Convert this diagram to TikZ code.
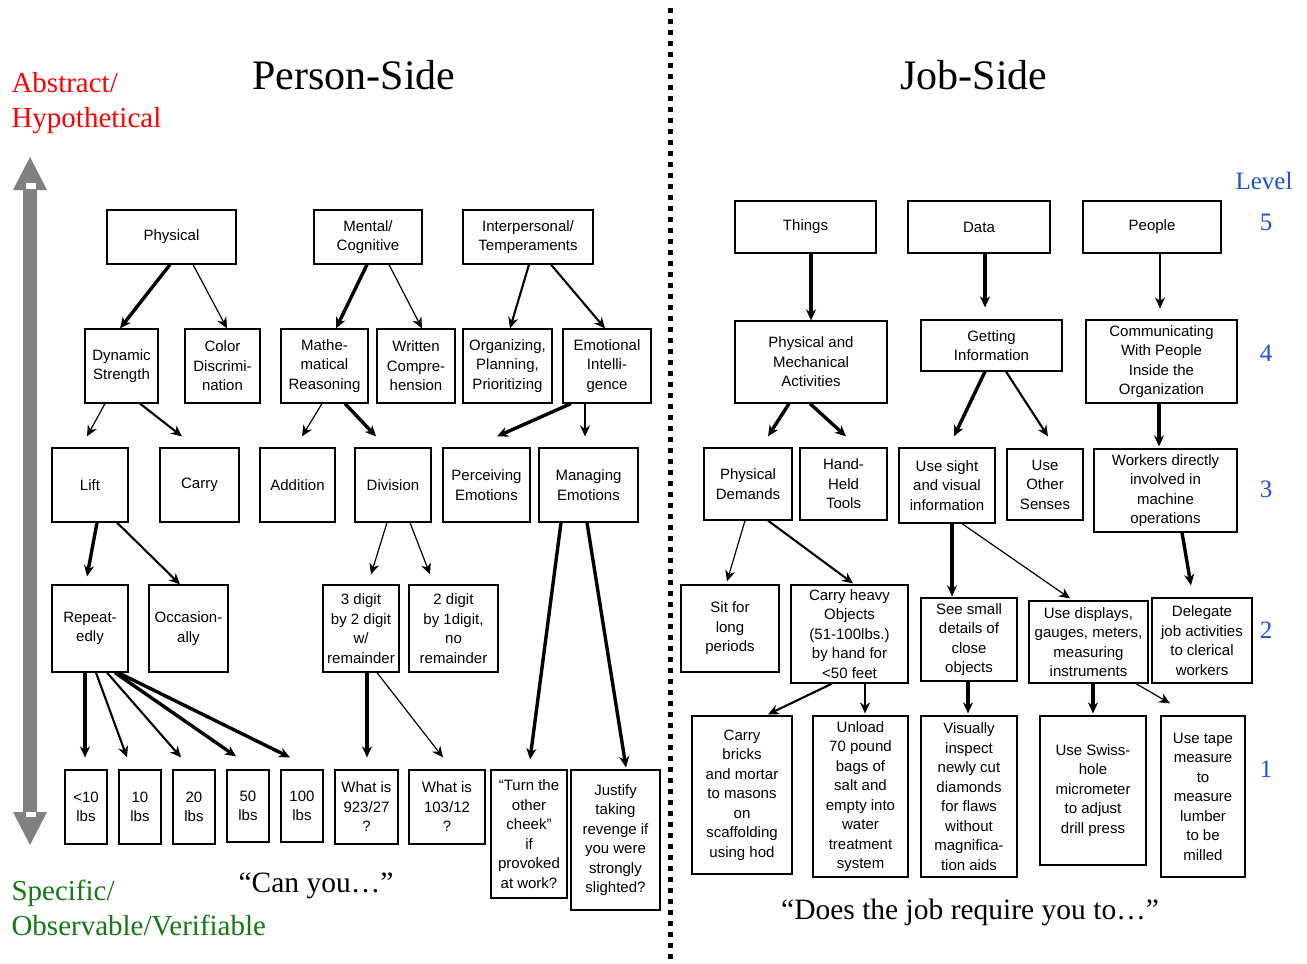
\documentclass[tikz,border=0pt]{standalone}
\usepackage{fontspec}
\setmainfont{Liberation Serif}
\setsansfont{Liberation Sans}
\usetikzlibrary{arrows.meta}
\newcommand\boxfont{\sffamily\fontsize{15}{19.5}\selectfont}
\definecolor{absred}{RGB}{255,0,0}
\definecolor{obsgreen}{RGB}{20,120,20}
\definecolor{lvlblue}{RGB}{30,80,215}
\definecolor{bargray}{RGB}{128,128,128}
\begin{document}
\begin{tikzpicture}[x=1pt,y=-1pt,
  box/.style={draw, line width=1.2pt, inner sep=1pt, align=center, font=\boxfont},
  arr/.style={-{Stealth[length=11pt,width=10pt,inset=3.5pt]}},
  thk/.style={arr, line width=3.4pt},
  med/.style={arr, line width=2.1pt},
  thn/.style={arr, line width=1.2pt},
  ttl/.style={font=\fontsize{42}{50}\selectfont},
  side/.style={font=\fontsize{29}{35}\selectfont, align=left, anchor=west},
  lvl/.style={font=\fontsize{25}{30}\selectfont, text=lvlblue},
  quote/.style={font=\fontsize{29.5}{35}\selectfont}]
\useasboundingbox (0,0) rectangle (1307,964);

% gray double arrow
\fill[bargray] (23,190) rectangle (37,812);
\fill[bargray] (13,190) -- (47,190) -- (30,157) -- cycle;
\fill[bargray] (13,812) -- (47,812) -- (30,845) -- cycle;
\fill[white] (26,183) rectangle (36,189);
\fill[white] (26,812) rectangle (36,817);

% dotted separator
\draw[line width=5pt, dash pattern=on 5pt off 6pt] (670,8) -- (670,964);

% titles and side labels
\node[ttl] (pside) at (354,75) {Person-Side};
\node[ttl] (jside) at (974,75) {Job-Side};
\node[side, text=absred] (abs) at (8,103) {Abstract/\\Hypothetical};
\node[side, text=obsgreen] (obs) at (8,908) {Specific/\\Observable/Verifiable};
\node[quote] (canyou) at (316,886) {“Can you…”};
\node[quote] (doesjob) at (970,912) {“Does the job require you to…”};
\node[lvl] (level) at (1264,181) {Level};
\node[lvl] (l5) at (1266,222) {5};
\node[lvl] (l4) at (1266,353) {4};
\node[lvl] (l3) at (1266,489) {3};
\node[lvl] (l2) at (1266,630) {2};
\node[lvl] (l1) at (1266,769) {1};

% ---------- Person side ----------
\node[box, minimum width=129, minimum height=54] (phys) at (171.5,237) {Physical};
\node[box, minimum width=108, minimum height=54] (mental) at (368,237) {Mental/\\Cognitive};
\node[box, minimum width=130, minimum height=54] (interp) at (528,237) {Interpersonal/\\Temperaments};

\node[box, minimum width=73, minimum height=74] (dyn) at (121.5,366) {Dynamic\\Strength};
\node[box, minimum width=75, minimum height=74] (color) at (222.5,366) {Color\\Discrimi-\\nation};
\node[box, minimum width=87, minimum height=74] (mathe) at (324.5,366) {Mathe-\\matical\\Reasoning};
\node[box, minimum width=78, minimum height=74] (written) at (416,366) {Written\\Compre-\\hension};
\node[box, minimum width=89, minimum height=74] (organ) at (507.5,366) {Organizing,\\Planning,\\Prioritizing};
\node[box, minimum width=88, minimum height=74] (emot) at (607,366) {Emotional\\Intelli-\\gence};

\node[box, minimum width=76, minimum height=74] (lift) at (90,485) {Lift};
\node[box, minimum width=79, minimum height=74] (carry) at (199.5,485) {Carry};
\node[box, minimum width=75, minimum height=74] (addition) at (297.5,485) {Addition};
\node[box, minimum width=76, minimum height=74] (division) at (393,485) {Division};
\node[box, minimum width=87, minimum height=74] (perc) at (486.5,485) {Perceiving\\Emotions};
\node[box, minimum width=99, minimum height=74] (manag) at (588.5,485) {Managing\\Emotions};

\node[box, minimum width=76, minimum height=87] (repeat) at (90,628.5) {Repeat-\\edly};
\node[box, minimum width=79, minimum height=87] (occas) at (188.5,628.5) {Occasion-\\ally};
\node[box, minimum width=76, minimum height=87] (three) at (361,628.5) {3 digit\\by 2 digit\\w/\\remainder};
\node[box, minimum width=89, minimum height=87] (two) at (453.5,628.5) {2 digit\\by 1digit,\\no\\remainder};

\node[box, minimum width=42, minimum height=74] (lbA) at (86,807) {<10\\lbs};
\node[box, minimum width=42, minimum height=74] (lbB) at (140,807) {10\\lbs};
\node[box, minimum width=42, minimum height=74] (lbC) at (194,807) {20\\lbs};
\node[box, minimum width=42, minimum height=72] (lbD) at (248,806) {50\\lbs};
\node[box, minimum width=42, minimum height=72] (lbE) at (302,806) {100\\lbs};
\node[box, minimum width=63, minimum height=74] (whatA) at (366.5,807) {What is\\923/27\\?};
\node[box, minimum width=76, minimum height=74] (whatB) at (447,807) {What is\\103/12\\?};
\node[box, minimum width=76, minimum height=128] (turn) at (529,834) {“Turn the\\other\\cheek”\\if\\provoked\\at work?};
\node[box, minimum width=89, minimum height=140] (justify) at (615.5,840) {Justify\\taking\\revenge if\\you were\\strongly\\slighted?};

% ---------- Job side ----------
\node[box, minimum width=141, minimum height=52] (things) at (805.5,227) {Things};
\node[box, minimum width=142, minimum height=52] (data) at (979,227) {Data};
\node[box, minimum width=138, minimum height=52] (people) at (1152,227) {People};

\node[box, minimum width=152, minimum height=82] (physmech) at (811,362) {Physical and\\Mechanical\\Activities};
\node[box, minimum width=141, minimum height=51] (getting) at (991.5,345.5) {Getting\\Information};
\node[box, minimum width=151, minimum height=83] (commun) at (1161.5,361.5) {Communicating\\With People\\Inside the\\Organization};

\node[box, minimum width=88, minimum height=72] (physdem) at (748,484) {Physical\\Demands};
\node[box, minimum width=87, minimum height=72] (hand) at (843.5,484) {Hand-\\Held\\Tools};
\node[box, minimum width=96, minimum height=75] (sight) at (947,485.5) {Use sight\\and visual\\information};
\node[box, minimum width=76, minimum height=71] (other) at (1045,484.5) {Use\\Other\\Senses};
\node[box, minimum width=143, minimum height=83] (workers) at (1165.5,490.5) {Workers directly\\involved in\\machine\\operations};

\node[box, minimum width=98, minimum height=87] (sit) at (730,628.5) {Sit for\\long\\periods};
\node[box, minimum width=117, minimum height=98] (heavy) at (849.5,634) {Carry heavy\\Objects\\(51-100lbs.)\\by hand for\\<50 feet};
\node[box, minimum width=96, minimum height=83] (seesmall) at (969,639.5) {See small\\details of\\close\\objects};
\node[box, minimum width=119, minimum height=82] (displays) at (1088.5,642) {Use displays,\\gauges, meters,\\measuring\\instruments};
\node[box, minimum width=100, minimum height=85] (delegate) at (1202,640.5) {Delegate\\job activities\\to clerical\\workers};

\node[box, minimum width=100, minimum height=158] (bricks) at (742,795) {Carry\\bricks\\and mortar\\to masons\\on\\scaffolding\\using hod};
\node[box, minimum width=95, minimum height=161] (unload) at (860.5,796.5) {Unload\\70 pound\\bags of\\salt and\\empty into\\water\\treatment\\system};
\node[box, minimum width=96, minimum height=161] (visual) at (969,796.5) {Visually\\inspect\\newly cut\\diamonds\\for flaws\\without\\magnifica-\\tion aids};
\node[box, minimum width=106, minimum height=149] (swiss) at (1093,790.5) {Use Swiss-\\hole\\micrometer\\to adjust\\drill press};
\node[box, minimum width=84, minimum height=161] (tape) at (1203,796.5) {Use tape\\measure\\to\\measure\\lumber\\to be\\milled};

% ---------- Person side arrows ----------
\draw[thk] ([xshift=-1.5pt]phys.south) -- ([xshift=-1.5pt]dyn.north);
\draw[thn] ([xshift=21.5pt]phys.south) -- ([xshift=4.5pt]color.north);
\draw[thk] ([xshift=-1pt]mental.south) -- ([xshift=11.5pt]mathe.north);
\draw[thn] ([xshift=21pt]mental.south) -- ([xshift=6pt]written.north);
\draw[med] ([xshift=1pt]interp.south) -- ([xshift=2.5pt]organ.north);
\draw[med] ([xshift=23pt]interp.south) -- ([xshift=-2pt]emot.north);

\draw[thn] ([xshift=-16.5pt]dyn.south) -- ([xshift=-3pt,yshift=11pt]lift.north);
\draw[med] ([xshift=18.5pt]dyn.south) -- ([xshift=-17.5pt,yshift=11pt]carry.north);
\draw[thn] ([xshift=-2.5pt]mathe.south) -- ([xshift=4.5pt,yshift=11pt]addition.north);
\draw[thk] ([xshift=20.5pt]mathe.south) -- ([xshift=-17pt,yshift=11pt]division.north);
\draw[thk] ([xshift=-36pt]emot.south) -- ([xshift=10.5pt,yshift=11pt]perc.north);
\draw[med] ([xshift=-22pt]emot.south) -- ([xshift=-3.5pt,yshift=11pt]manag.north);

\draw[thk] ([xshift=7pt]lift.south) -- ([xshift=-3pt,yshift=8pt]repeat.north);
\draw[med] ([xshift=27pt]lift.south) -- ([xshift=-8.5pt]occas.north);
\draw[thn] ([xshift=-6pt]division.south) -- ([xshift=10pt,yshift=10pt]three.north);
\draw[thn] ([xshift=17pt]division.south) -- ([xshift=-23.5pt,yshift=10pt]two.north);

\draw[thk] ([xshift=-5pt]repeat.south) -- ([xshift=-1pt,yshift=12pt]lbA.north);
\draw[med] ([xshift=6pt]repeat.south) -- ([xshift=-13pt,yshift=12pt]lbB.north);
\draw[med] ([xshift=17pt]repeat.south) -- ([xshift=-13pt,yshift=12pt]lbC.north);
\draw[thk] ([xshift=25pt]repeat.south) -- ([xshift=-12pt,yshift=13pt]lbD.north);
\draw[thk] ([xshift=28pt]repeat.south) -- ([xshift=-12pt,yshift=12pt]lbE.north);
\draw[thk] ([xshift=6pt]three.south) -- ([xshift=0.5pt,yshift=12pt]whatA.north);
\draw[thn] ([xshift=16pt]three.south) -- ([xshift=-4pt,yshift=12pt]whatB.north);
\draw[thk] ([xshift=-27.5pt]manag.south) -- ([xshift=1pt,yshift=10pt]turn.north);
\draw[thk] ([xshift=-1.5pt]manag.south) -- ([xshift=10.5pt,yshift=2pt]justify.north);

% ---------- Job side arrows ----------
\draw[thk] ([xshift=5.5pt]things.south) -- (physmech.north);
\draw[thk] ([xshift=6pt]data.south) -- ([xshift=-6.5pt,yshift=12pt]getting.north);
\draw[thn] ([xshift=8pt]people.south) -- ([xshift=-1.5pt,yshift=11pt]commun.north);
\draw[thk] ([xshift=-22pt]physmech.south) -- ([xshift=20pt,yshift=11pt]physdem.north);
\draw[thk] ([xshift=-1pt]physmech.south) -- ([xshift=2.5pt,yshift=11pt]hand.north);
\draw[thk] ([xshift=-6.5pt]getting.south) -- ([xshift=7pt,yshift=11pt]sight.north);
\draw[med] ([xshift=14.5pt]getting.south) -- ([xshift=3pt,yshift=12pt]other.north);
\draw[thk] ([xshift=-2.5pt]commun.south) -- ([xshift=-6.5pt,yshift=2pt]workers.north);
\draw[thn] ([xshift=-3pt]physdem.south) -- ([xshift=-3pt,yshift=3pt]sit.north);
\draw[med] ([xshift=20pt]physdem.south) -- ([xshift=3.5pt,yshift=1pt]heavy.north);
\draw[thk] ([xshift=5pt]sight.south) -- ([xshift=-17pt,yshift=1pt]seesmall.north);
\draw[thn] ([xshift=15pt]sight.south) -- ([xshift=-18.5pt,yshift=2pt]displays.north);
\draw[thk] ([xshift=16.5pt]workers.south) -- ([xshift=-11pt,yshift=12pt]delegate.north);
\draw[med] ([xshift=-17.5pt]heavy.south) -- ([xshift=26pt,yshift=1pt]bricks.north);
\draw[med] ([xshift=15.5pt]heavy.south) -- ([xshift=4.5pt,yshift=2pt]unload.north);
\draw[thk] ([xshift=-1pt]seesmall.south) -- ([xshift=-1pt,yshift=2pt]visual.north);
\draw[thk] ([xshift=4.5pt]displays.south) -- ([yshift=2pt]swiss.north);
\draw[thn] ([xshift=47.5pt]displays.south) -- ([xshift=-33pt,yshift=12pt]tape.north);
\end{tikzpicture}
\end{document}
